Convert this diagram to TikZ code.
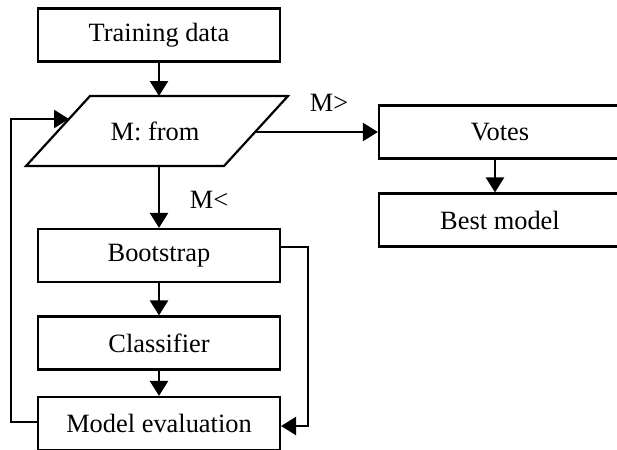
\documentclass[tikz,border=0pt]{standalone}
\usepackage{fontspec}
\setmainfont{Liberation Serif}
\usetikzlibrary{arrows.meta}
\begin{document}
\begin{tikzpicture}[x=0.5pt,y=-0.5pt,
  box/.style={draw, line width=1.1pt, minimum width=121pt, minimum height=26.5pt, inner sep=0pt, font=\fontsize{13.2}{15}\selectfont},
  lbl/.style={font=\fontsize{13.2}{15}\selectfont, inner sep=0pt},
  arr/.style={line width=1.2pt, -{Triangle[length=7.5pt,width=9pt]}},
  ln/.style={line width=1.1pt}]
\useasboundingbox (0,0) rectangle (617,450);
\clip (0,0) rectangle (617,450);
\node[box] (train) at (159,35) {Training data};
\node[box] (boot) at (159,255.5) {Bootstrap};
\node[box] (clf) at (159,343) {Classifier};
\node[box] (eval) at (159,423.5) {Model evaluation};
\node[box] (votes) at (500,132) {Votes};
\node[box] (best) at (500,220) {Best model};
% parallelogram
\coordinate (p1) at (26,166);
\coordinate (p2) at (224,166);
\coordinate (p3) at (288,96);
\coordinate (p4) at (90,96);
\draw[ln, line join=miter] (p1) -- (p2) -- (p3) -- (p4) -- cycle;
\node[lbl] (from) at (155,131) {M: from};
\coordinate (pt) at (159,96);
\coordinate (pb) at (159,166);
\coordinate (pr) at (255,132);
\coordinate (pl) at (69,119);
% connectors
\draw[arr] (train) -- (pt);
\draw[arr] (pb) -- (boot);
\draw[arr] (pr) -- (votes);
\draw[arr] ([xshift=-2.5pt]votes.south) -- ([xshift=-2.5pt]best.north);
\draw[arr] (boot) -- (clf);
\draw[arr] (clf) -- (eval);
\draw[arr] ([yshift=4.25pt]boot.east) -- ++(13.5pt,0) |- ([yshift=-1.25pt]eval.east);
\draw[arr] ([yshift=0.75pt]eval.west) -- ++(-13pt,0) |- (pl);
% labels
\node[lbl] (mg) at (329,103) {M>};
\node[lbl] (ml) at (209,200) {M<};
\end{tikzpicture}
\end{document}
